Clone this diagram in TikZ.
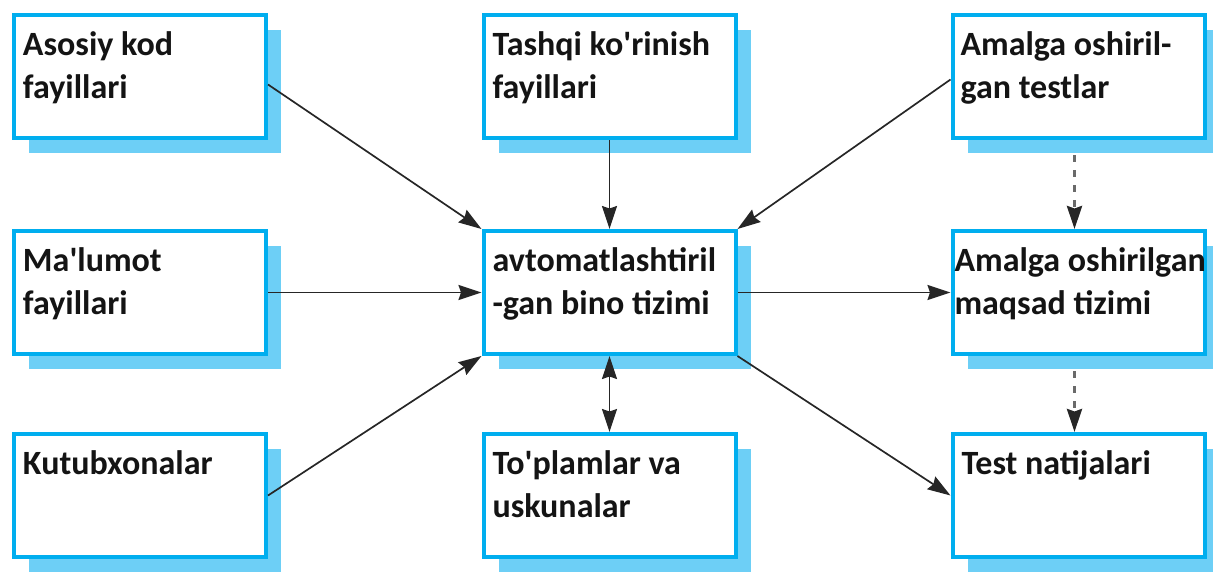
\documentclass[tikz,border=0pt]{standalone}
\usepackage{fontspec}
\setmainfont{Carlito}
\usetikzlibrary{arrows.meta,shadows,calc}
\definecolor{boxline}{HTML}{00AEEF}
\definecolor{boxshade}{HTML}{6DCFF6}
\definecolor{linkc}{HTML}{262626}
\definecolor{dashc}{HTML}{6A6A6A}
\definecolor{txt}{HTML}{141414}
% two-line box caption, set from the top of the box
\newcommand{\btext}[3][0pt]{\parbox[c][119pt][t]{234pt}{\leftskip=#1\rule{0pt}{38pt}\mbox{#2}\\\mbox{#3}}}
\begin{document}
\begin{tikzpicture}[x=1pt,y=-1pt,
  tip/.tip={Stealth[length=23pt,width=15pt,inset=2.5pt]},
  blk/.style={draw=boxline, line width=4pt, fill=white, inner xsep=9pt, inner ysep=2pt,
    minimum width=252pt, minimum height=123pt,
    drop shadow={shadow xshift=15pt, shadow yshift=-15pt, fill=boxshade, opacity=1},
    font=\fontsize{34}{43}\selectfont\bfseries, text=txt},
  link/.style={draw=linkc, line width=1.7pt, -tip},
  dlink/.style={draw=dashc, line width=3.2pt, dash pattern=on 7pt off 8pt,
    -{Stealth[length=23pt,width=15pt,inset=2.5pt,color=linkc]}}]
\useasboundingbox (0,0) rectangle (1213,571);

% left column
\node[blk] (kod) at (140,76.5) {\btext{Asosiy kod}{fayillari}};
\node[blk] (mal) at (140,292.5) {\btext{Ma\textquotesingle lumot}{fayillari}};
\node[blk] (kut) at (140,495.5) {\btext{Kutubxonalar}{}};

% middle column
\node[blk] (tas) at (609.5,76.5) {\btext{Tashqi ko\textquotesingle rinish}{fayillari}};
\node[blk] (bin) at (609.5,292.5) {\btext{avtomatlashtiril}{-gan bino tizimi}};
\node[blk] (top) at (609.5,495.5) {\btext{To\textquotesingle plamlar va}{uskunalar}};

% right column
\node[blk] (amt) at (1078.5,76.5) {\btext[-1pt]{Amalga oshiril-}{gan testlar}};
\node[blk] (maq) at (1078.5,292.5) {\btext[-7pt]{Amalga oshirilgan}{maqsad tizimi}};
\node[blk] (nat) at (1078.5,495.5) {\btext{Test natijalari}{}};

% inputs to the build system
\draw[link] ($(kod.east)+(0,8)$) -- (bin.north west);
\draw[link] (mal.east) -- (bin.west);
\draw[link] (kut.east) -- (bin.south west);
\draw[link] (tas.south) -- (bin.north);
\draw[link] ($(amt.west)+(0,3)$) -- (bin.north east);
\draw[link, tip-tip] (bin.south) -- (top.north);

% outputs
\draw[link] (bin.east) -- (maq.west);
\draw[link] (bin.south east) -- (nat.west);

% test flow on the right
\draw[dlink] ($(amt.south)+(-4,15)$) -- ($(maq.north)+(-4,0)$);
\draw[dlink] ($(maq.south)+(-4,15)$) -- ($(nat.north)+(-4,0)$);
\end{tikzpicture}
\end{document}
